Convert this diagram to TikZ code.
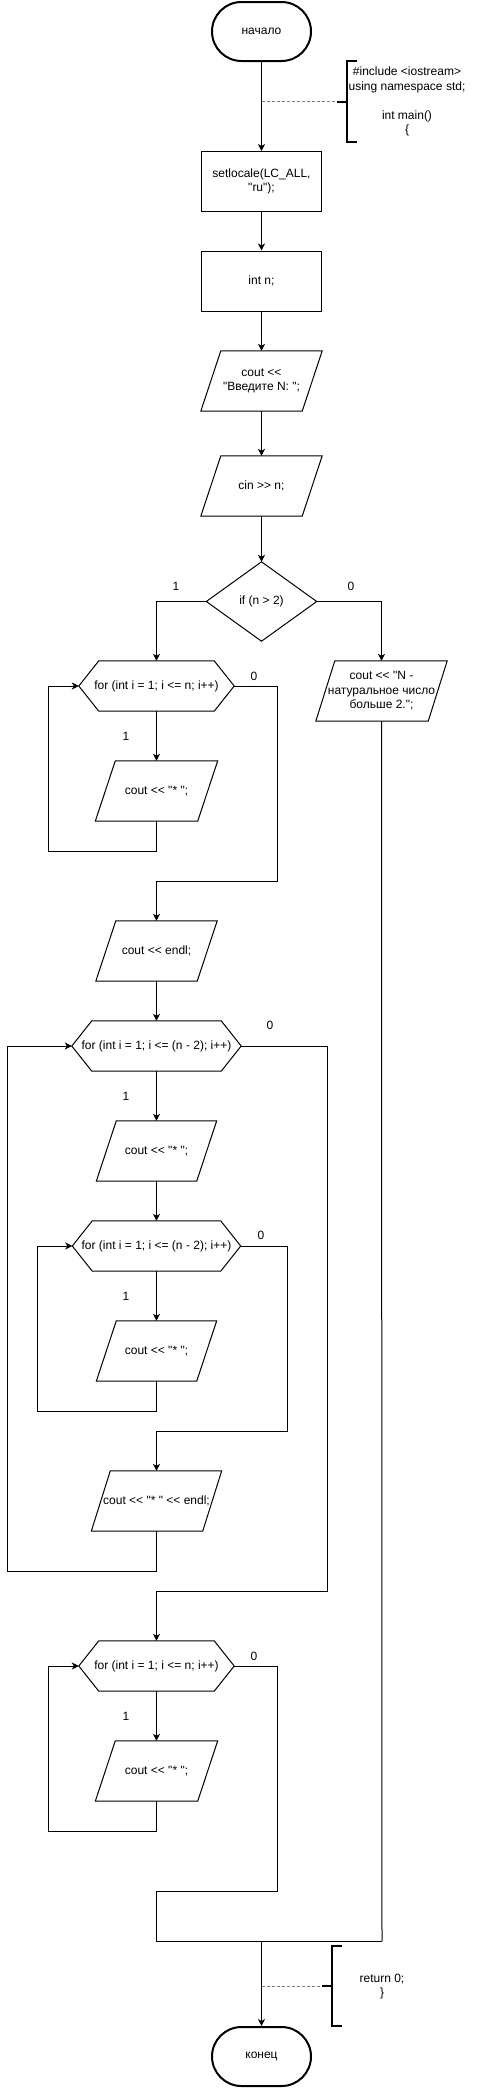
\documentclass[tikz,border=0pt]{standalone}
\usepackage{fontspec}
\newfontfamily\lsans{Liberation Sans}
\usetikzlibrary{arrows.meta,calc}
\begin{document}
\begin{tikzpicture}[x=1pt,y=-1pt,
  every node/.style={font=\lsans\fontsize{12}{14.6}\selectfont, align=center, inner sep=0pt},
  base/.style={line width=1pt, line join=miter},
  arr/.style={base, -{Stealth[length=7pt,width=7pt,inset=2pt]}},
  term/.style={draw, line width=2pt, rounded corners=29.5pt, minimum width=99pt, minimum height=59pt},
  proc/.style={draw, line width=1pt, minimum width=120pt, minimum height=60pt},
  box/.style={minimum height=60pt},
  hexbox/.style={minimum height=50pt},
  lbl/.style={font=\lsans\fontsize{12}{14}\selectfont},
  annline/.style={line width=1pt, gray, dash pattern=on 3pt off 2pt},
  brk/.style={line width=2pt}
]
\useasboundingbox (0,0) rectangle (478,2088);
\newcommand{\drawpara}[2]{\draw[base] ([xshift=#2]#1.north west) -- (#1.north east) -- ([xshift=-#2]#1.south east) -- (#1.south west) -- cycle;}
\newcommand{\drawhex}[1]{\draw[base] (#1.west) -- ([xshift=20pt]#1.north west) -- ([xshift=-20pt]#1.north east) -- (#1.east) -- ([xshift=-20pt]#1.south east) -- ([xshift=20pt]#1.south west) -- cycle;}

% ---------- main column ----------
\node[term] (start) at (261.5,31.5) {начало};
\node[proc] (setl) at (261.5,181.5) {setlocale(LC\_ALL,\\ "ru");};
\node[proc] (intn) at (261.5,281) {int n;};
\node[box, minimum width=121pt] (cout1) at (261.5,381) {cout <<\\ "Введите N: ";};
\drawpara{cout1}{20pt}
\node[box, minimum width=121pt] (cin) at (261.5,486) {cin >> n;};
\drawpara{cin}{20pt}
\node[minimum width=110pt, minimum height=79pt] (ifc) at (261.5,601.5) {if (n > 2)};
\draw[base] (ifc.west) -- (ifc.north) -- (ifc.east) -- (ifc.south) -- cycle;

% ---------- error branch ----------
\node[box, minimum width=131pt] (err) at (381.5,691) {cout << "N -\\натуральное число\\больше 2.";};
\drawpara{err}{19pt}

% ---------- loop 1 ----------
\node[hexbox, minimum width=155pt] (for1) at (156.5,686) {for (int i = 1; i <= n; i++)};
\drawhex{for1}
\node[box, minimum width=122pt] (p1) at (156.5,791) {cout << "* ";};
\drawpara{p1}{20pt}

\node[box, minimum width=121pt] (endl) at (156.5,951) {cout << endl;};
\drawpara{endl}{20pt}

% ---------- loop 2 (outer) ----------
\node[hexbox, minimum width=169pt] (for2) at (156.5,1046) {for (int i = 1; i <= (n - 2); i++)};
\drawhex{for2}
\node[box, minimum width=120pt] (p2) at (156.5,1151) {cout << "* ";};
\drawpara{p2}{20pt}

% ---------- loop 3 (inner) ----------
\node[hexbox, minimum width=168pt] (for3) at (156.5,1246) {for (int i = 1; i <= (n - 2); i++)};
\drawhex{for3}
\node[box, minimum width=120pt] (p3) at (156.5,1351) {cout << "* ";};
\drawpara{p3}{20pt}

\node[box, minimum width=130pt] (endl2) at (156.5,1501) {cout << "* " << endl;};
\drawpara{endl2}{19pt}

% ---------- loop 4 ----------
\node[hexbox, minimum width=155pt] (for4) at (156.5,1666) {for (int i = 1; i <= n; i++)};
\drawhex{for4}
\node[box, minimum width=122pt] (p4) at (156.5,1771) {cout << "* ";};
\drawpara{p4}{20pt}

\node[term] (end) at (261.5,2056.5) {конец};

% ---------- coordinates ----------
\coordinate (l1) at (48,851);
\coordinate (r1) at (277,881);
\coordinate (l3) at (37,1411);
\coordinate (r3) at (287,1431);
\coordinate (l2) at (7,1571);
\coordinate (r2) at (327,1591);
\coordinate (l4) at (48,1831);
\coordinate (r4) at (277,1891);
\coordinate (m1) at (156.5,1941);
\coordinate (m2) at (382,1941);
\coordinate (j) at (261.5,1941);

% ---------- connectors ----------
\draw[arr] (start) -- (setl);
\draw[arr] (setl) -- (intn);
\draw[arr] (intn) -- (cout1);
\draw[arr] (cout1) -- (cin);
\draw[arr] (cin) -- (ifc);
\draw[arr] (ifc.west) -| (for1.north);
\draw[arr] (ifc.east) -| (err.north);
\draw[arr] (for1) -- (p1);
\draw[arr] (p1.south) |- (l1) |- (for1.west);
\draw[arr] (for1.east) -| (r1) -| (endl.north);
\draw[arr] (endl) -- (for2);
\draw[arr] (for2) -- (p2);
\draw[arr] (p2) -- (for3);
\draw[arr] (for3) -- (p3);
\draw[arr] (p3.south) |- (l3) |- (for3.west);
\draw[arr] (for3.east) -| (r3) -| (endl2.north);
\draw[arr] (endl2.south) |- (l2) |- (for2.west);
\draw[arr] (for2.east) -| (r2) -| (for4.north);
\draw[arr] (for4) -- (p4);
\draw[arr] (p4.south) |- (l4) |- (for4.west);
\draw[base] (for4.east) -| (r4) -| (m1) -- (m2);
\draw[base] (err.south) -- (m2);
\draw[arr] (j) -- (end);

% ---------- labels ----------
\node[lbl] (y0) at (176,586) {1};
\node[lbl] (n0) at (351,586) {0};
\node[lbl] (n1) at (254,676) {0};
\node[lbl] (y1) at (126,736) {1};
\node[lbl] (n2) at (270,1025) {0};
\node[lbl] (y2) at (126,1096) {1};
\node[lbl] (n3) at (261,1235) {0};
\node[lbl] (y3) at (126,1296) {1};
\node[lbl] (n4) at (254,1656) {0};
\node[lbl] (y4) at (126,1716) {1};

% ---------- annotations ----------
\coordinate (a1) at (261.5,101.5);
\node (ann1) at (407,101.5) {\#include <iostream>\\using namespace std;\\[14.6pt]int main()\\\{};
\draw[annline] (a1) -- (336,101.5);
\draw[brk] (337,101.5) -- (347,101.5);
\draw[brk] (357,61) -- (347,61) -- (347,142) -- (357,142);

\coordinate (a2) at (261.5,1986);
\node (ann2) at (382,1986.5) {return 0;\\\}};
\draw[annline] (a2) -- (321,1986);
\draw[brk] (322,1986) -- (332,1986);
\draw[brk] (342,1946) -- (332,1946) -- (332,2026) -- (342,2026);
\end{tikzpicture}
\end{document}
